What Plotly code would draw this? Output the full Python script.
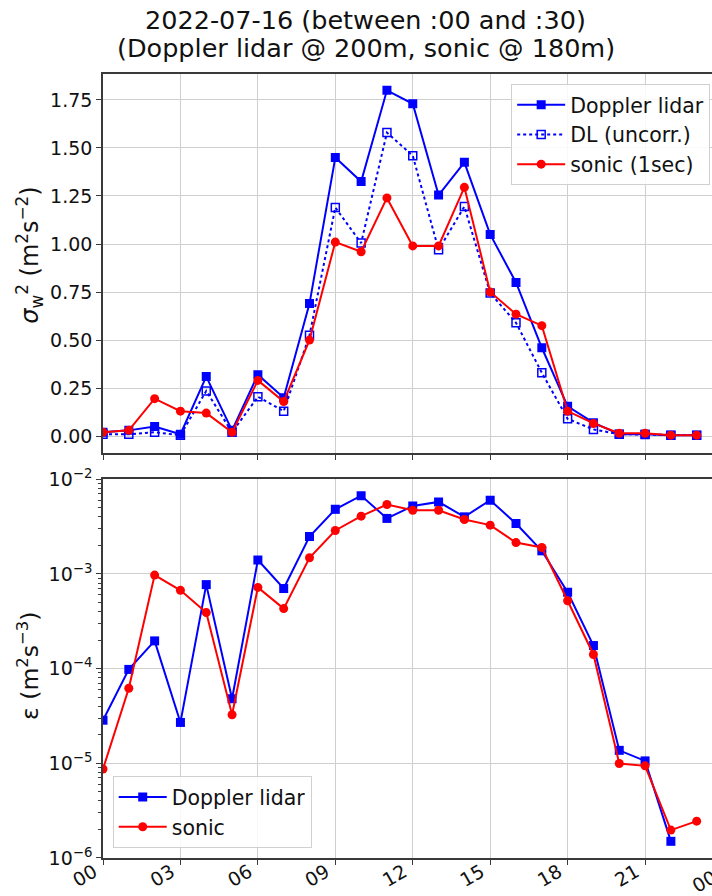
import plotly.graph_objects as go

hours = list(range(24))
xtick_vals = [0, 3, 6, 9, 12, 15, 18, 21]
xtick_text = ["00", "03", "06", "09", "12", "15", "18", "21"]

var_dl = [0.02, 0.03, 0.05, 0.01, 0.31, 0.03, 0.32, 0.20, 0.69, 1.45, 1.325, 1.80,
          1.73, 1.255, 1.425, 1.05, 0.80, 0.46, 0.155, 0.07, 0.01, 0.01, 0.005, 0.005]
var_dl_uncorr = [0.01, 0.01, 0.02, 0.005, 0.235, 0.02, 0.205, 0.13, 0.525, 1.19, 1.005, 1.58,
                 1.46, 0.97, 1.195, 0.745, 0.59, 0.33, 0.09, 0.035, 0.01, 0.008, 0.005, 0.005]
var_sonic = [0.02, 0.03, 0.195, 0.13, 0.12, 0.02, 0.29, 0.18, 0.50, 1.01, 0.96, 1.24,
             0.99, 0.99, 1.295, 0.75, 0.635, 0.575, 0.13, 0.066, 0.015, 0.015, 0.005, 0.005]

eps_dl = [2.85e-5, 9.8e-5, 1.96e-4, 2.7e-5, 7.7e-4, 4.8e-5, 1.40e-3, 7.0e-4, 2.48e-3, 4.8e-3,
          6.7e-3, 3.85e-3, 5.2e-3, 5.75e-3, 4.0e-3, 6.0e-3, 3.4e-3, 1.75e-3, 6.4e-4, 1.75e-4,
          1.37e-5, 1.06e-5, 1.5e-6, None]
eps_sonic = [8.7e-6, 6.2e-5, 9.7e-4, 6.7e-4, 3.9e-4, 3.25e-5, 7.2e-4, 4.3e-4, 1.48e-3, 2.87e-3,
             4.07e-3, 5.4e-3, 4.7e-3, 4.7e-3, 3.75e-3, 3.27e-3, 2.14e-3, 1.9e-3, 5.2e-4, 1.41e-4,
             9.95e-6, 9.4e-6, 1.97e-6, 2.45e-6]

var_ticks = [0.0, 0.25, 0.5, 0.75, 1.0, 1.25, 1.5, 1.75]
eps_ticks = [1e-6, 1e-5, 1e-4, 1e-3, 1e-2]
eps_ticktext = ["10<sup>−6</sup>", "10<sup>−5</sup>", "10<sup>−4</sup>", "10<sup>−3</sup>", "10<sup>−2</sup>"]

BLUE = "#0000ff"
RED = "#ff0000"
FONT = "DejaVu Sans"

W, H = 712, 896
ML, MR, MT, MB = 103.3, 0.0, 74.0, 38.3
plot_h = H - MT - MB
plot_w = W - ML - MR
top_dom = [(H - MB - 452.7) / plot_h, 1.0]
bot_dom = [0.0, (H - MB - 479.0) / plot_h]

fig = go.Figure()

fig.add_trace(go.Scatter(x=hours, y=var_dl, name="Doppler lidar", mode="lines+markers",
                         line=dict(color=BLUE, width=2), marker=dict(symbol="square", size=9, color=BLUE),
                         xaxis="x", yaxis="y", legend="legend"))
fig.add_trace(go.Scatter(x=hours, y=var_dl_uncorr, name="DL (uncorr.)", mode="lines+markers",
                         line=dict(color=BLUE, width=2, dash="dot"),
                         marker=dict(symbol="square-open", size=8, color=BLUE, line=dict(width=1.5)),
                         xaxis="x", yaxis="y", legend="legend"))
fig.add_trace(go.Scatter(x=hours, y=var_sonic, name="sonic (1sec)", mode="lines+markers",
                         line=dict(color=RED, width=2), marker=dict(symbol="circle", size=9, color=RED),
                         xaxis="x", yaxis="y", legend="legend"))

fig.add_trace(go.Scatter(x=hours, y=eps_dl, name="Doppler lidar", mode="lines+markers",
                         line=dict(color=BLUE, width=2), marker=dict(symbol="square", size=9, color=BLUE),
                         xaxis="x2", yaxis="y2", legend="legend2"))
fig.add_trace(go.Scatter(x=hours, y=eps_sonic, name="sonic", mode="lines+markers",
                         line=dict(color=RED, width=2), marker=dict(symbol="circle", size=9, color=RED),
                         xaxis="x2", yaxis="y2", legend="legend2"))

axis_common = dict(showline=True, linecolor="#3a3a3a", linewidth=1.6,
                   ticks="outside", ticklen=5, tickwidth=1.2, tickcolor="#3a3a3a",
                   showgrid=True, gridcolor="#cfcfcf", gridwidth=1.3, zeroline=False,
                   tickfont=dict(family=FONT, size=19, color="#111"), automargin=False)

x_range = [0, (W - ML) / 25.8]

legend_common = dict(bgcolor="rgba(255,255,255,0.85)", bordercolor="#d0d0d0", borderwidth=1,
                     font=dict(family=FONT, size=20.5, color="#111"), tracegroupgap=0,
                     itemwidth=48)

fig.update_layout(
    width=W, height=H,
    margin=dict(l=ML, r=MR, t=MT, b=MB, pad=0),
    paper_bgcolor="white", plot_bgcolor="white",
    font=dict(family=FONT, color="#111"),
    showlegend=True,
    xaxis=dict(domain=[0, 1], anchor="y", range=x_range, tickmode="array", tickvals=xtick_vals,
               ticktext=xtick_text, showticklabels=False, mirror=True, **axis_common),
    yaxis=dict(domain=top_dom, anchor="x", range=[-0.087, 1.885], tickmode="array",
               tickvals=var_ticks, ticktext=[f"{v:.2f}" for v in var_ticks], **axis_common),
    xaxis2=dict(domain=[0, 1], anchor="y2", range=x_range, tickmode="array", tickvals=xtick_vals,
                ticktext=xtick_text, tickangle=-30, mirror=True, ticklabelstandoff=-11,
                ticklabelshift=-9, **axis_common),
    yaxis2=dict(domain=bot_dom, anchor="x2", type="log", range=[-6, -2], tickmode="array",
                tickvals=eps_ticks, ticktext=eps_ticktext,
                minor=dict(ticks="outside", ticklen=3, tickcolor="#3a3a3a", showgrid=False,
                           tickmode="array",
                           tickvals=[m * 10 ** e for e in range(-6, -2) for m in range(2, 10)]),
                **axis_common),
    legend=dict(x=0.997, xanchor="right", y=(H - MB - 84) / plot_h, yanchor="top", **legend_common),
    legend2=dict(x=(113 - ML) / plot_w, xanchor="left", y=(H - MB - 848) / plot_h, yanchor="bottom",
                 **legend_common),
)

annotations = [
    dict(text="2022-07-16 (between :00 and :30)", xref="paper", yref="paper",
         x=(366 - ML) / plot_w, y=(H - MB - 20) / plot_h, xanchor="center", yanchor="middle",
         showarrow=False, font=dict(family=FONT, size=25.5, color="#111")),
    dict(text="(Doppler lidar @ 200m, sonic @ 180m)", xref="paper", yref="paper",
         x=(366 - ML) / plot_w, y=(H - MB - 48) / plot_h, xanchor="center", yanchor="middle",
         showarrow=False, font=dict(family=FONT, size=25.5, color="#111")),
    dict(text="<i>σ</i><sub>w</sub><sup>2</sup> (m<sup>2</sup>s<sup>−2</sup>)", xref="paper", yref="paper",
         x=(29 - ML) / plot_w, y=(H - MB - 255) / plot_h, xanchor="center", yanchor="middle",
         textangle=-90, showarrow=False, font=dict(family=FONT, size=24, color="#111")),
    dict(text="ε (m<sup>2</sup>s<sup>−3</sup>)", xref="paper", yref="paper",
         x=(29 - ML) / plot_w, y=(H - MB - 666) / plot_h, xanchor="center", yanchor="middle",
         textangle=-90, showarrow=False, font=dict(family=FONT, size=23.5, color="#111")),
    dict(text="00", xref="paper", yref="paper",
         x=(723 - ML) / plot_w, y=-0.006, xanchor="right", yanchor="top",
         textangle=-30, showarrow=False, font=dict(family=FONT, size=19, color="#111")),
]
fig.update_layout(annotations=annotations)

fig.write_html("out.html")
